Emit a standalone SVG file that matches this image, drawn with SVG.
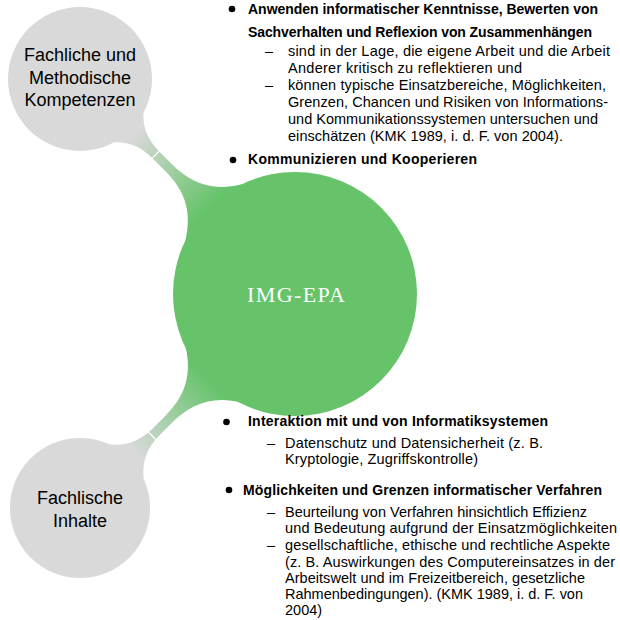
<svg xmlns="http://www.w3.org/2000/svg" width="620" height="620" viewBox="0 0 620 620">
<defs>
<style>
.nd{font-family:"Liberation Sans",Arial,sans-serif;font-size:18px;fill:#000;text-anchor:middle}
.b{font-family:"Liberation Sans",Arial,sans-serif;font-size:14px;font-weight:bold;fill:#000}
.r{font-family:"Liberation Sans",Arial,sans-serif;font-size:14.5px;fill:#000}
.bar{fill:url(#cg)}
.seam{stroke:#fff;stroke-width:1.2}
.gray{fill:#d9d9d9}
</style>
<linearGradient id="cg" gradientUnits="userSpaceOnUse" x1="78" y1="0" x2="182" y2="0">
<stop offset="0" stop-color="#d9d9d9"/>
<stop offset="1" stop-color="#66c36a"/>
</linearGradient>
</defs>
<rect width="620" height="620" fill="#fff"/>
<g id="connectors">
<g transform="translate(80,79) rotate(45)">
<path class="bar" d="M55,-24 L66,-24 C76,-12 88,-4.8 108,-4.8 L125,-4.8 C150,-4.8 172,-12 189,-40 L200,-40 L200,40 L189,40 C172,12 150,4.8 125,4.8 L108,4.8 C88,4.8 76,12 66,24 L55,24 Z"/>
<line class="seam" x1="107" y1="-5.5" x2="107" y2="5.5"/>
</g>
<g transform="translate(80,508) rotate(-45)">
<path class="bar" d="M55,-24 L66,-24 C76,-12 88,-4.8 108,-4.8 L125,-4.8 C150,-4.8 172,-12 189,-40 L200,-40 L200,40 L189,40 C172,12 150,4.8 125,4.8 L108,4.8 C88,4.8 76,12 66,24 L55,24 Z"/>
<line class="seam" x1="102" y1="-5.5" x2="102" y2="5.5"/>
</g>
</g>
<g id="img-epa">
<circle cx="295" cy="294" r="122" fill="#66c36a"/>
<text x="296" y="302" font-family="'Liberation Serif','Times New Roman',serif" font-size="22" fill="#fff" text-anchor="middle" textLength="98">IMG-EPA</text>
</g>
<g id="fachliche-methodische">
<circle class="gray" cx="80" cy="79" r="72"/>
<text class="nd" x="80" y="61">Fachliche und</text>
<text class="nd" x="80" y="83.5">Methodische</text>
<text class="nd" x="80" y="106">Kompetenzen</text>
</g>
<g id="fachliche-inhalte">
<circle class="gray" cx="80" cy="508" r="70"/>
<text class="nd" x="80" y="504">Fachlische</text>
<text class="nd" x="80" y="527">Inhalte</text>
</g>
<g id="list-kompetenzen">
<circle cx="232" cy="9" r="3.3"/>
<text class="b" x="248" y="14" textLength="350">Anwenden informatischer Kenntnisse, Bewerten von</text>
<text class="b" x="248" y="37" textLength="344">Sachverhalten und Reflexion von Zusammenhängen</text>
<text class="r" x="265" y="56">–</text>
<text class="r" x="288" y="56" textLength="322">sind in der Lage, die eigene Arbeit und die Arbeit</text>
<text class="r" x="288" y="73" textLength="234">Anderer kritisch zu reflektieren und</text>
<text class="r" x="265" y="90">–</text>
<text class="r" x="288" y="90" textLength="318">können typische Einsatzbereiche, Möglichkeiten,</text>
<text class="r" x="288" y="107" textLength="320">Grenzen, Chancen und Risiken von Informations-</text>
<text class="r" x="288" y="124" textLength="310">und Kommunikationssystemen untersuchen und</text>
<text class="r" x="288" y="141" textLength="275">einschätzen (KMK 1989, i. d. F. von 2004).</text>
<circle cx="233" cy="160" r="3.3"/>
<text class="b" x="248" y="164" textLength="229">Kommunizieren und Kooperieren</text>
</g>
<g id="list-inhalte">
<circle cx="226.5" cy="422" r="3.3"/>
<text class="b" x="248" y="426" textLength="300">Interaktion mit und von Informatiksystemen</text>
<text class="r" x="267" y="448">–</text>
<text class="r" x="285" y="448" textLength="258">Datenschutz und Datensicherheit (z. B.</text>
<text class="r" x="285" y="464" textLength="193">Kryptologie, Zugriffskontrolle)</text>
<circle cx="229" cy="490" r="3.3"/>
<text class="b" x="243" y="495" textLength="359">Möglichkeiten und Grenzen informatischer Verfahren</text>
<text class="r" x="267" y="517">–</text>
<text class="r" x="285" y="517" textLength="302">Beurteilung von Verfahren hinsichtlich Effizienz</text>
<text class="r" x="285" y="533" textLength="332">und Bedeutung aufgrund der Einsatzmöglichkeiten</text>
<text class="r" x="267" y="550">–</text>
<text class="r" x="285" y="550" textLength="325">gesellschaftliche, ethische und rechtliche Aspekte</text>
<text class="r" x="285" y="567" textLength="330">(z. B. Auswirkungen des Computereinsatzes in der</text>
<text class="r" x="285" y="583" textLength="300">Arbeitswelt und im Freizeitbereich, gesetzliche</text>
<text class="r" x="285" y="599" textLength="298">Rahmenbedingungen). (KMK 1989, i. d. F. von</text>
<text class="r" x="285" y="615">2004)</text>
</g>
</svg>
